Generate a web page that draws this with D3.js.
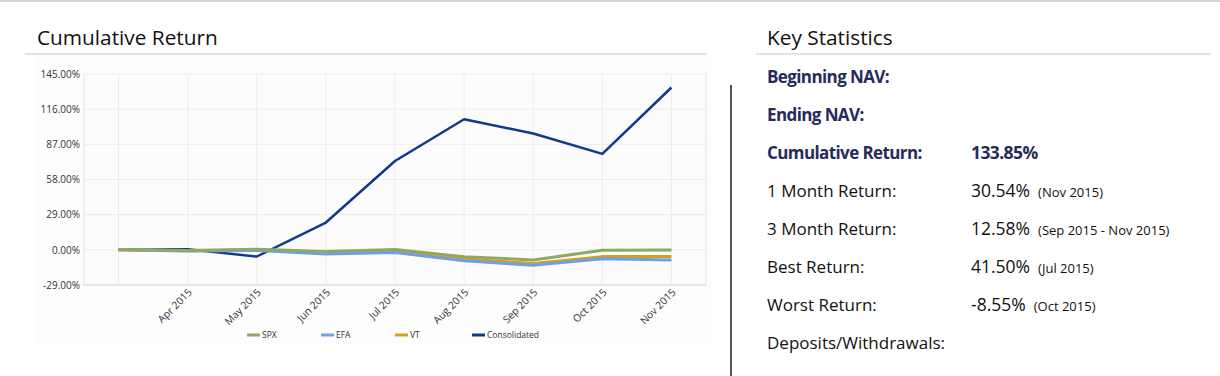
<!DOCTYPE html>
<html>
<head>
<meta charset="utf-8">
<script src="https://cdnjs.cloudflare.com/ajax/libs/d3/7.8.5/d3.min.js"></script>
<style>
  body { margin: 0; background: #fff; }
  svg { display: block; font-family: "Open Sans", sans-serif; }
</style>
</head>
<body>
<svg id="page" width="1220" height="376"></svg>
<script>
// Chart data
var months = ["Mar 2015", "Apr 2015", "May 2015", "Jun 2015", "Jul 2015", "Aug 2015", "Sep 2015", "Oct 2015", "Nov 2015"];
var monthLabels = ["", "Apr 2015", "May 2015", "Jun 2015", "Jul 2015", "Aug 2015", "Sep 2015", "Oct 2015", "Nov 2015"];
var yTicks = [-29, 0, 29, 58, 87, 116, 145];
var seriesNames = ["SPX", "EFA", "VT", "Consolidated"];
var seriesColors = ["#8fa964", "#6f9fe6", "#d8a01a", "#0f3a8a"];
var spx = [0, -0.6, 0.4, -1.4, 0.2, -5.6, -8.3, -0.4, -0.2];
var efa = [0, -0.9, -0.6, -3.5, -2.3, -9.0, -12.8, -7.3, -8.3];
var vt = [0, -0.7, -0.1, -2.5, -1.5, -7.4, -11.3, -5.6, -5.6];
var consolidated = [0, 0.5, -5.5, 22.5, 73.3, 107.7, 95.9, 79.1, 133.85];

// Key statistics
var statLabels = ["Beginning NAV:", "Ending NAV:", "Cumulative Return:", "1 Month Return:", "3 Month Return:", "Best Return:", "Worst Return:", "Deposits/Withdrawals:"];
var statValues = ["", "", "133.85%", "30.54%", "12.58%", "41.50%", "-8.55%", ""];
var statNotes = ["", "", "", "(Nov 2015)", "(Sep 2015 - Nov 2015)", "(Jul 2015)", "(Oct 2015)", ""];
var statBold = [true, true, true, false, false, false, false, false];

var svg = d3.select('#page');

// page chrome
svg.append('rect').attr('x', 0).attr('y', 0).attr('width', 1220).attr('height', 2).attr('fill', '#d4d4d4');
svg.append('rect').attr('x', 36).attr('y', 58).attr('width', 676).attr('height', 286).attr('fill', '#fdfdfd');

function header(x, x1, x2, label) {
    svg.append('text')
        .attr('x', x).attr('y', 45)
        .attr('font-size', 20.8)
        .attr('fill', '#111')
        .text(label);
    svg.append('line')
        .attr('x1', x1).attr('x2', x2)
        .attr('y1', 54).attr('y2', 54)
        .style('stroke', '#e3e3e3')
        .style('stroke-width', 2);
}
header(37, 25, 707, 'Cumulative Return');
header(767, 756, 1211, 'Key Statistics');

svg.append('line')
    .attr('x1', 731).attr('x2', 731)
    .attr('y1', 85).attr('y2', 376)
    .style('stroke', '#555')
    .style('stroke-width', 2);

// ---- line chart ----
var plotLeft = 84, plotRight = 706, plotTop = 74, plotBottom = 285;
var x = d3.scaleBand().domain(months).range([plotLeft, plotRight]);
var y = d3.scaleLinear().domain([-29, 145]).range([plotBottom, plotTop]);
var xPos = function (m) { return x(m) + x.bandwidth() / 2; };

var chart = svg.append('g');
chart.append('rect')
    .attr('x', plotLeft).attr('y', plotTop)
    .attr('width', plotRight - plotLeft).attr('height', plotBottom - plotTop)
    .attr('fill', '#fcfcfd');

// horizontal grid
chart.selectAll('line.hgrid')
    .data(yTicks)
    .enter()
  .append('line')
    .attr('class', 'hgrid')
    .attr('x1', plotLeft).attr('x2', plotRight)
    .attr('y1', function (d) { return y(d); })
    .attr('y2', function (d) { return y(d); })
    .style('stroke', function (d) { return d === -29 ? '#dedede' : '#ececec'; })
    .style('stroke-width', function (d) { return d === -29 ? 1.5 : 1; });

// vertical grid
chart.selectAll('line.vgrid')
    .data(months)
    .enter()
  .append('line')
    .attr('class', 'vgrid')
    .attr('x1', xPos).attr('x2', xPos)
    .attr('y1', plotTop).attr('y2', plotBottom)
    .style('stroke', '#ececec');
[plotLeft, plotRight].forEach(function (px) {
    chart.append('line')
        .attr('x1', px).attr('x2', px)
        .attr('y1', plotTop).attr('y2', plotBottom)
        .style('stroke', '#e4e4e4');
});

// y axis labels
var yAxis = d3.axisLeft(y)
    .tickValues(yTicks)
    .tickSize(0)
    .tickPadding(3)
    .tickFormat(function (d) { return d.toFixed(2) + '%'; });
var yAxisG = chart.append('g')
    .attr('transform', 'translate(' + (plotLeft - 1) + ',0)')
    .call(yAxis);
yAxisG.select('.domain').remove();
yAxisG.selectAll('text')
    .attr('font-size', 10)
    .attr('font-family', '"Open Sans", sans-serif')
    .attr('fill', '#333');

// x axis labels
var xAxis = d3.axisBottom(x)
    .tickSize(0)
    .tickFormat(function (d, i) { return monthLabels[i]; });
var xAxisG = chart.append('g')
    .attr('transform', 'translate(0,' + plotBottom + ')')
    .call(xAxis);
xAxisG.select('.domain').remove();
xAxisG.selectAll('text')
    .attr('font-size', 10.3)
    .attr('font-family', '"Open Sans", sans-serif')
    .attr('fill', '#333')
    .attr('text-anchor', 'end')
    .attr('dy', null)
    .attr('y', 0)
    .attr('transform', 'translate(5,8) rotate(-45)');

// series lines
var allSeries = [spx, efa, vt, consolidated];
var lineMaker = d3.line()
    .x(function (d, i) { return xPos(months[i]); })
    .y(function (d) { return y(d); });
var drawOrder = [3, 2, 1, 0];
drawOrder.forEach(function (k) {
    chart.append('path')
        .datum(allSeries[k])
        .attr('d', lineMaker)
        .attr('fill', 'none')
        .style('stroke', seriesColors[k])
        .style('stroke-width', k === 3 ? 2.5 : 3)
        .style('stroke-linejoin', 'round');
});

// legend
var legendX = [247, 321, 395, 472];
var legend = chart.selectAll('g.legendItem')
    .data(seriesNames)
    .enter()
  .append('g')
    .attr('class', 'legendItem')
    .attr('transform', function (d, i) { return 'translate(' + legendX[i] + ',335)'; });
legend.append('line')
    .attr('x1', 0).attr('x2', 13)
    .style('stroke', function (d, i) { return seriesColors[i]; })
    .style('stroke-width', 3);
legend.append('text')
    .attr('x', 15).attr('y', 3)
    .attr('font-size', 8.5)
    .attr('fill', '#333')
    .text(function (d) { return d; });

// ---- key statistics ----
var rowY = d3.scalePoint().domain(d3.range(statLabels.length)).range([83, 349]);
var stats = svg.selectAll('g.stat')
    .data(statLabels)
    .enter()
  .append('g')
    .attr('class', 'stat')
    .attr('transform', function (d, i) { return 'translate(0,' + rowY(i) + ')'; });
stats.append('text')
    .attr('x', 767)
    .attr('font-size', 17)
    .attr('font-weight', function (d, i) { return statBold[i] ? 700 : 400; })
    .attr('fill', function (d, i) { return statBold[i] ? '#262b5c' : '#111'; })
    .attr('letter-spacing', function (d, i) { return statBold[i] ? -0.6 : 0; })
    .text(function (d) { return d; });
var valueText = stats.append('text')
    .attr('x', 971)
    .attr('font-size', 17.5)
    .attr('fill', function (d, i) { return statBold[i] ? '#262b5c' : '#111'; })
    .attr('font-weight', function (d, i) { return statBold[i] ? 700 : 400; })
    .attr('letter-spacing', function (d, i) { return statBold[i] ? -0.6 : 0; });
valueText.append('tspan').text(function (d, i) { return statValues[i]; });
valueText.append('tspan')
    .attr('font-size', 13)
    .attr('dx', 8)
    .text(function (d, i) { return statNotes[i]; });
</script>
</body>
</html>
